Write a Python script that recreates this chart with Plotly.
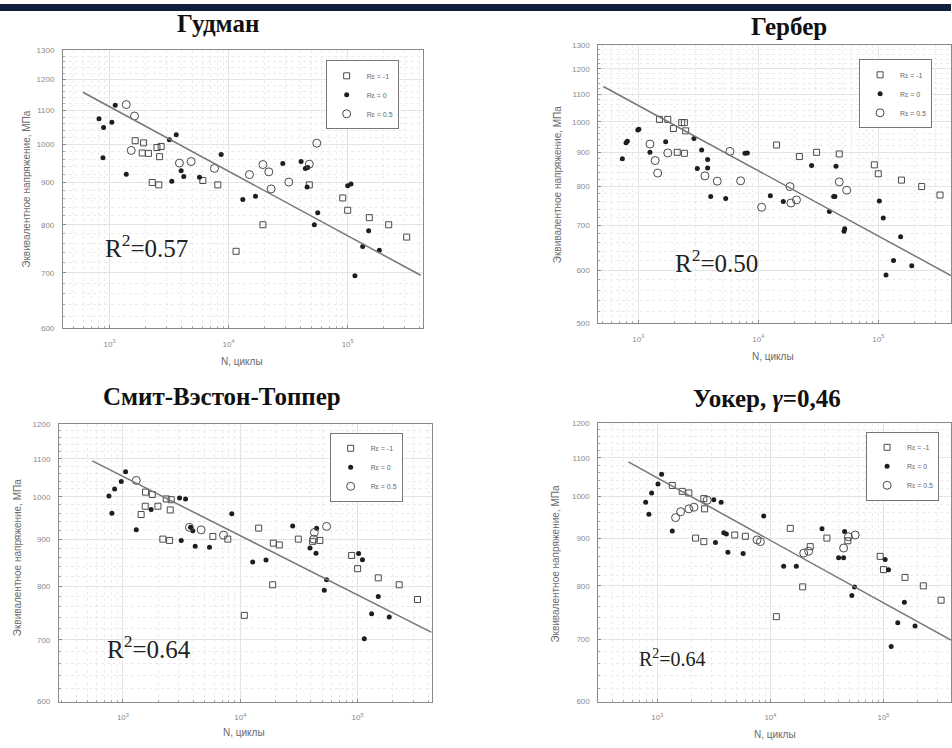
import math
import plotly.graph_objects as go

# ---------------- data (N cycles, equivalent stress MPa) ----------------
# Panel 1: Гудман
G_SQ_N = [1640, 1930, 1880, 2120, 2500, 2710, 2630, 2280, 2590, 6070, 8110, 19400, 11550, 90800, 100000, 152000, 221000, 313000, 47600]
G_SQ_S = [1011, 1005, 977, 976, 992, 995, 967, 900, 894, 905, 894, 800, 743, 862, 833, 816, 800, 773, 894]
G_ST_N = [815, 890, 1045, 1115, 880, 1380, 3180, 3630, 3330, 3990, 4200, 5690, 8650, 13150, 16800, 28500, 40600, 44100, 46200, 45600, 56000, 52500, 100000, 106600, 115000, 133700, 150000, 184500]
G_ST_S = [1075, 1049, 1064, 1116, 964, 921, 1014, 1028, 903, 930, 915, 913, 973, 858, 866, 949, 954, 936, 938, 889, 827, 800, 892, 896, 694, 753, 787, 745]
G_CI_N = [1380, 1620, 1520, 3860, 4840, 7600, 14960, 19400, 21740, 22740, 32000, 47600, 55000]
G_CI_S = [1118, 1083, 984, 950, 954, 936, 920, 946, 927, 884, 901, 947, 1004]
G_LINE_N = [597, 410000]
G_LINE_S = [1157, 695]

# Panel 2: Гербер
H_SQ_N = [1500, 1760, 1960, 2300, 2420, 2480, 2110, 2420, 14200, 22000, 30600, 47300, 100000, 156000, 230000, 327000, 92700]
H_SQ_S = [1008, 1008, 977, 997, 997, 969, 900, 897, 923, 887, 900, 895, 836, 818, 800, 777, 862]
H_ST_N = [736, 790, 810, 990, 1010, 1250, 1690, 2910, 3370, 3780, 3780, 3100, 4010, 5350, 7740, 8100, 12600, 16150, 27800, 39100, 44400, 42500, 43500, 51800, 52500, 102000, 110000, 116000, 134000, 153500, 190000]
H_ST_S = [880, 930, 935, 972, 974, 900, 933, 944, 907, 878, 853, 851, 773, 768, 897, 898, 775, 760, 860, 734, 858, 773, 773, 686, 692, 761, 718, 590, 620, 673, 609]
H_CI_N = [1250, 1380, 1450, 1760, 3590, 4550, 5800, 7120, 10660, 18360, 18700, 20800, 47300, 54500]
H_CI_S = [926, 875, 838, 898, 830, 815, 903, 816, 745, 800, 756, 764, 813, 790]
H_LINE_N = [511, 403000]
H_LINE_S = [1129, 589]

# Panel 3: Смит-Вэстон-Топпер
S_SQ_N = [1560, 1780, 1430, 1550, 1990, 2340, 2580, 2530, 2190, 2500, 5840, 7830, 14350, 19140, 21500, 18900, 10830, 31250, 47700, 41400, 88900, 100000, 150000, 226000, 324000]
S_SQ_S = [1012, 1006, 957, 977, 977, 995, 993, 968, 900, 897, 906, 900, 925, 891, 887, 803, 744, 900, 897, 895, 864, 836, 817, 803, 774]
S_ST_N = [760, 850, 806, 968, 1054, 1300, 1740, 3040, 3420, 3140, 3770, 3940, 4130, 5470, 8470, 12770, 16580, 27980, 39300, 44200, 44700, 54400, 52000, 102000, 110000, 114000, 131600, 150000, 186000]
S_ST_S = [1002, 1020, 960, 1039, 1065, 921, 969, 997, 995, 897, 927, 919, 884, 882, 959, 850, 854, 930, 880, 869, 925, 813, 792, 868, 855, 702, 747, 780, 741]
S_CI_N = [1300, 4640, 3690, 7200, 42800, 54400, 42300]
S_CI_S = [1042, 921, 927, 909, 915, 929, 900]
S_LINE_N = [548, 427000]
S_LINE_S = [1094, 713]

# Panel 4: Уокер, γ=0,46
W_SQ_N = [1357, 1660, 1900, 2580, 2620, 2180, 2580, 4840, 6010, 15000, 19300, 11300, 22500, 31600, 48400, 93500, 100000, 155000, 225000, 323000]
W_SQ_S = [1027, 1012, 1008, 994, 969, 901, 893, 908, 905, 923, 798, 741, 882, 901, 895, 861, 833, 817, 800, 772]
W_ST_N = [789, 843, 891, 1014, 1092, 1357, 3160, 3670, 3270, 3870, 4080, 4210, 5740, 8730, 13100, 16960, 28600, 40100, 44400, 45300, 52500, 55400, 103500, 110700, 117000, 133700, 153000, 190000]
W_ST_S = [985, 956, 1008, 1031, 1056, 917, 991, 985, 891, 913, 910, 870, 867, 952, 840, 840, 922, 858, 858, 916, 781, 798, 854, 833, 688, 730, 768, 724]
W_CI_N = [1450, 1610, 1900, 2110, 2760, 7630, 8160, 19700, 21800, 44400, 56200, 49000]
W_CI_S = [948, 962, 969, 973, 990, 897, 893, 868, 872, 879, 908, 904]
W_LINE_N = [555, 395000]
W_LINE_S = [1089, 699]

TITLES = ["Гудман", "Гербер", "Смит-Вэстон-Топпер", "Уокер, <i>γ</i>=0,46"]
R2_TEXT = ["0.57", "0.50", "0.64", "0.64"]
SERIES_NAMES = ["R\u03b5 = -1", "R\u03b5 = 0", "R\u03b5 = 0.5"]
X_TICKS = [1e3, 1e4, 1e5]
X_TICKTEXT = ["10<sup>3</sup>", "10<sup>4</sup>", "10<sup>5</sup>"]
Y_TICKS_1 = [600, 700, 800, 900, 1000, 1100, 1200, 1300]
Y_TICKS_2 = [500, 600, 700, 800, 900, 1000, 1100, 1200, 1300]
Y_TICKS_34 = [600, 700, 800, 900, 1000, 1100, 1200]
Y_TITLE = "Эквивалентное напряжение, МПа"
X_TITLE = "N, циклы"

# ---------------- layout helpers ----------------
W, H = 952, 748


def px_x(p):
    return p / W


def px_y(p):
    return 1 - p / H


panels = [
    dict(data=(G_SQ_N, G_SQ_S, G_ST_N, G_ST_S, G_CI_N, G_CI_S, G_LINE_N, G_LINE_S),
         xdom=(63, 423), ydom=(47, 328), xr=(2.608, 5.629), yr=(600, 1300), yt=Y_TICKS_1,
         title=(218, 20), r2=(103, 245, 25), leg=(326, 57), ytl=(27, 187), xtl=(242, 362)),
    dict(data=(H_SQ_N, H_SQ_S, H_ST_N, H_ST_S, H_CI_N, H_CI_S, H_LINE_N, H_LINE_S),
         xdom=(599, 952), ydom=(42, 323), xr=(2.667, 5.606), yr=(500, 1300), yt=Y_TICKS_2,
         title=(790, 23), r2=(674, 260, 25), leg=(860, 56), ytl=(558, 182), xtl=(774, 357)),
    dict(data=(S_SQ_N, S_SQ_S, S_ST_N, S_ST_S, S_CI_N, S_CI_S, S_LINE_N, S_LINE_S),
         xdom=(59, 432), ydom=(425, 706), xr=(2.455, 5.63), yr=(600, 1200), yt=Y_TICKS_34,
         title=(222, 397), r2=(105, 651, 25), leg=(330, 434), ytl=(17, 560), xtl=(244, 737)),
    dict(data=(W_SQ_N, W_SQ_S, W_ST_N, W_ST_S, W_CI_N, W_CI_S, W_LINE_N, W_LINE_S),
         xdom=(599, 952), ydom=(424, 706), xr=(2.479, 5.597), yr=(600, 1200), yt=Y_TICKS_34,
         title=(768, 399), r2=(638, 662, 20), leg=(867, 433), ytl=(556, 566), xtl=(776, 739)),
]

x_minor = [k * 10 ** d for d in range(2, 6) for k in range(2, 10)]

fig = go.Figure()
annotations = []
layout_axes = {}

MK = "#4a4a4a"
for i, p in enumerate(panels):
    n = i + 1
    xa = "x" if n == 1 else f"x{n}"
    ya = "y" if n == 1 else f"y{n}"
    leg = "legend" if n == 1 else f"legend{n}"
    sqN, sqS, stN, stS, ciN, ciS, lN, lS = p["data"]

    fig.add_trace(go.Scatter(x=sqN, y=sqS, mode="markers", name=SERIES_NAMES[0], xaxis=xa, yaxis=ya,
                             legend=leg, marker=dict(symbol="square-open", size=6, color=MK, line=dict(width=1))))
    fig.add_trace(go.Scatter(x=stN, y=stS, mode="markers", name=SERIES_NAMES[1], xaxis=xa, yaxis=ya,
                             legend=leg, marker=dict(symbol="circle", size=5, color="#1e1e1e")))
    fig.add_trace(go.Scatter(x=ciN, y=ciS, mode="markers", name=SERIES_NAMES[2], xaxis=xa, yaxis=ya,
                             legend=leg, marker=dict(symbol="circle-open", size=8, color=MK, line=dict(width=1))))
    fig.add_trace(go.Scatter(x=lN, y=lS, mode="lines", showlegend=False, xaxis=xa, yaxis=ya,
                             line=dict(color="#767676", width=1.5), hoverinfo="skip"))

    yr = p["yr"]
    y_minor = [v for v in range(yr[0], yr[1], 20) if v % 100 != 0]
    axis_common = dict(showline=True, linecolor="#8a8a8a", linewidth=1, mirror=True,
                       ticks="inside", ticklen=3, tickcolor="#8a8a8a",
                       showgrid=True, gridcolor="#e4e4e4", gridwidth=1, zeroline=False,
                       tickfont=dict(family="Arial, Liberation Sans", size=8, color="#8a8a8a"))
    layout_axes["xaxis" if n == 1 else f"xaxis{n}"] = dict(
        type="log", domain=[px_x(p["xdom"][0]), px_x(p["xdom"][1])], range=list(p["xr"]),
        anchor=ya, tickmode="array", tickvals=X_TICKS, ticktext=X_TICKTEXT, ticklabelstandoff=8,
        minor=dict(tickmode="array", tickvals=x_minor, showgrid=True, gridcolor="#ececec",
                   griddash="dot", ticks="inside", ticklen=2, tickcolor="#aaaaaa"),
        **axis_common)
    layout_axes["yaxis" if n == 1 else f"yaxis{n}"] = dict(
        type="log", domain=[px_y(p["ydom"][1]), px_y(p["ydom"][0])],
        range=[math.log10(yr[0]), math.log10(yr[1])], anchor=xa,
        tickmode="array", tickvals=p["yt"], ticktext=[str(v) for v in p["yt"]], ticklabelstandoff=6,
        minor=dict(tickmode="array", tickvals=y_minor, showgrid=True, gridcolor="#ececec",
                   griddash="dot", ticks="inside", ticklen=2, tickcolor="#aaaaaa"),
        **axis_common)

    layout_axes[leg] = dict(x=px_x(p["leg"][0]), y=px_y(p["leg"][1]), xanchor="left", yanchor="top",
                            bgcolor="white", bordercolor="#777777", borderwidth=1,
                            font=dict(family="Arial, Liberation Sans", size=7, color="#666666"),
                            itemwidth=30, tracegroupgap=0)

    annotations.append(dict(text=f"<b>{TITLES[i]}</b>", x=px_x(p["title"][0]), y=px_y(p["title"][1]),
                            xref="paper", yref="paper", showarrow=False, xanchor="center", yanchor="middle",
                            font=dict(family="Liberation Serif, Times New Roman, serif", size=25, color="#111111")))
    annotations.append(dict(text=f"R<sup>2</sup>={R2_TEXT[i]}", x=px_x(p["r2"][0]), y=px_y(p["r2"][1]),
                            xref="paper", yref="paper", showarrow=False, xanchor="left", yanchor="middle",
                            font=dict(family="Liberation Serif, Times New Roman, serif", size=p["r2"][2], color="#222222")))
    annotations.append(dict(text=Y_TITLE, x=px_x(p["ytl"][0]), y=px_y(p["ytl"][1]), textangle=-90,
                            xref="paper", yref="paper", showarrow=False, xanchor="center", yanchor="middle",
                            font=dict(family="Arial, Liberation Sans", size=10, color="#6a6a6a")))
    annotations.append(dict(text=X_TITLE, x=px_x(p["xtl"][0]), y=px_y(p["xtl"][1]),
                            xref="paper", yref="paper", showarrow=False, xanchor="center", yanchor="middle",
                            font=dict(family="Arial, Liberation Sans", size=10, color="#6a6a6a")))

fig.update_layout(
    width=W, height=H, margin=dict(l=0, r=0, t=0, b=0),
    paper_bgcolor="white", plot_bgcolor="white",
    annotations=annotations,
    shapes=[dict(type="rect", xref="paper", yref="paper", x0=0, x1=1, y0=px_y(7), y1=1,
                 fillcolor="#0f1f3d", line=dict(width=0), layer="above")],
    **layout_axes,
)

fig.write_html("out.html")
